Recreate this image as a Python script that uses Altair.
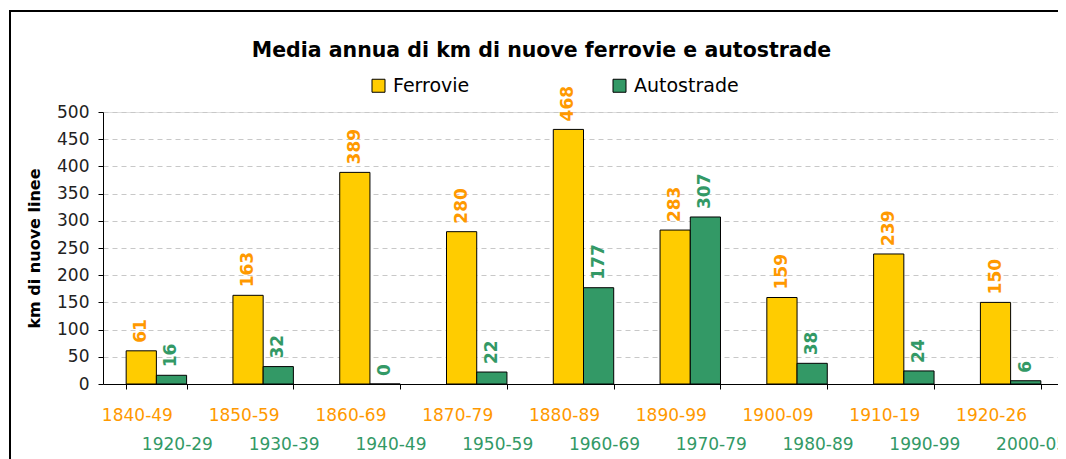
import altair as alt
import pandas as pd

# ---- data ----
series = ["Ferrovie", "Autostrade"]
periods_ferrovie = ["1840-49", "1850-59", "1860-69", "1870-79", "1880-89",
                    "1890-99", "1900-09", "1910-19", "1920-26"]
periods_autostrade = ["1920-29", "1930-39", "1940-49", "1950-59", "1960-69",
                      "1970-79", "1980-89", "1990-99", "2000-05"]
ferrovie = [61, 163, 389, 280, 468, 283, 159, 239, 150]
autostrade = [16, 32, 0, 22, 177, 307, 38, 24, 6]
y_ticks = [0, 50, 100, 150, 200, 250, 300, 350, 400, 450, 500]

bar_colors = ["#FFCC00", "#339966"]
label_colors = ["#FF9900", "#339966"]

slots = [f"s{i}" for i in range(len(ferrovie))]

rows = []
for i, s in enumerate(slots):
    rows.append({"slot": s, "serie": "Ferrovie", "value": ferrovie[i]})
    rows.append({"slot": s, "serie": "Autostrade", "value": autostrade[i]})
df = pd.DataFrame(rows)
lab_df = pd.DataFrame({"slot": slots, "top": periods_ferrovie, "bottom": periods_autostrade})

FONT = "DejaVu Sans"

x_enc = alt.X("slot:N", sort=slots,
              scale=alt.Scale(paddingInner=0.434, paddingOuter=0.217),
              axis=alt.Axis(labels=False, title=None, tickBand="extent", tickSize=5,
                            tickColor="black", domainColor="black", grid=False))
xo_enc = alt.XOffset("serie:N", sort=series,
                     scale=alt.Scale(domain=series, paddingInner=0, paddingOuter=0))
y_enc = alt.Y("value:Q", scale=alt.Scale(domain=[0, 500], nice=False),
              axis=alt.Axis(values=y_ticks, title="km di nuove linee",
                            titleFont=FONT, titleFontSize=16, titleFontWeight="bold",
                            titleColor="black", titlePadding=14,
                            labelFont=FONT, labelFontSize=17, labelColor="#222222",
                            labelPadding=9, labelOverlap=False, tickSize=5,
                            tickColor="black", domainColor="black", grid=True,
                            gridColor="#c8c8c8", gridDash=[5, 4]))

bars = alt.Chart(df).mark_bar(stroke="black", strokeWidth=1, opacity=1).encode(
    x=x_enc,
    xOffset=xo_enc,
    y=y_enc,
    color=alt.Color("serie:N", sort=series,
                    scale=alt.Scale(domain=series, range=bar_colors),
                    legend=alt.Legend(orient="none", legendX=266, legendY=-36,
                                      direction="horizontal", title=None,
                                      labelFont=FONT, labelFontSize=19,
                                      labelColor="black", symbolType="square",
                                      symbolSize=169, symbolStrokeColor="black",
                                      symbolStrokeWidth=1, symbolOpacity=1,
                                      labelOffset=5, columnPadding=140, padding=0)),
)

values = alt.Chart(df).mark_text(angle=270, align="left", baseline="middle", dx=8,
                                 font=FONT, fontSize=17, fontWeight="bold").encode(
    x=x_enc,
    xOffset=xo_enc,
    y=y_enc,
    text=alt.Text("value:Q"),
    color=alt.Color("serie:N", sort=series,
                    scale=alt.Scale(domain=series, range=label_colors), legend=None),
)

top_labels = alt.Chart(lab_df).mark_text(font=FONT, fontSize=17, color="#FF9900",
                                         baseline="middle", dx=-19).encode(
    x=x_enc, y=alt.value(304), text="top:N")
bottom_labels = alt.Chart(lab_df).mark_text(font=FONT, fontSize=17, color="#339966",
                                            baseline="middle", dx=21).encode(
    x=x_enc, y=alt.value(333), text="bottom:N")

frame = alt.Chart(pd.DataFrame({"k": [0]})).mark_rect(
    fillOpacity=0, stroke="black", strokeWidth=2).encode(
    x=alt.value(-93), x2=alt.value(1100), y=alt.value(-101), y2=alt.value(500))

chart = alt.layer(frame, bars, values, top_labels, bottom_labels).resolve_scale(
    color="independent"
).properties(
    width=961, height=272,
    title=alt.TitleParams("Media annua di km di nuove ferrovie e autostrade",
                          font=FONT, fontSize=20.5, fontWeight="bold", color="black",
                          anchor="middle", frame="group", baseline="alphabetic",
                          dx=-42, dy=67, offset=0),
    autosize=alt.AutoSizeParams(type="none"),
    padding={"left": 95, "top": 104, "right": -6, "bottom": 75},
).configure_view(stroke="#808080", strokeWidth=1).configure(background="white")

chart.save("out.html", embed_options={"renderer": "svg", "actions": False})
